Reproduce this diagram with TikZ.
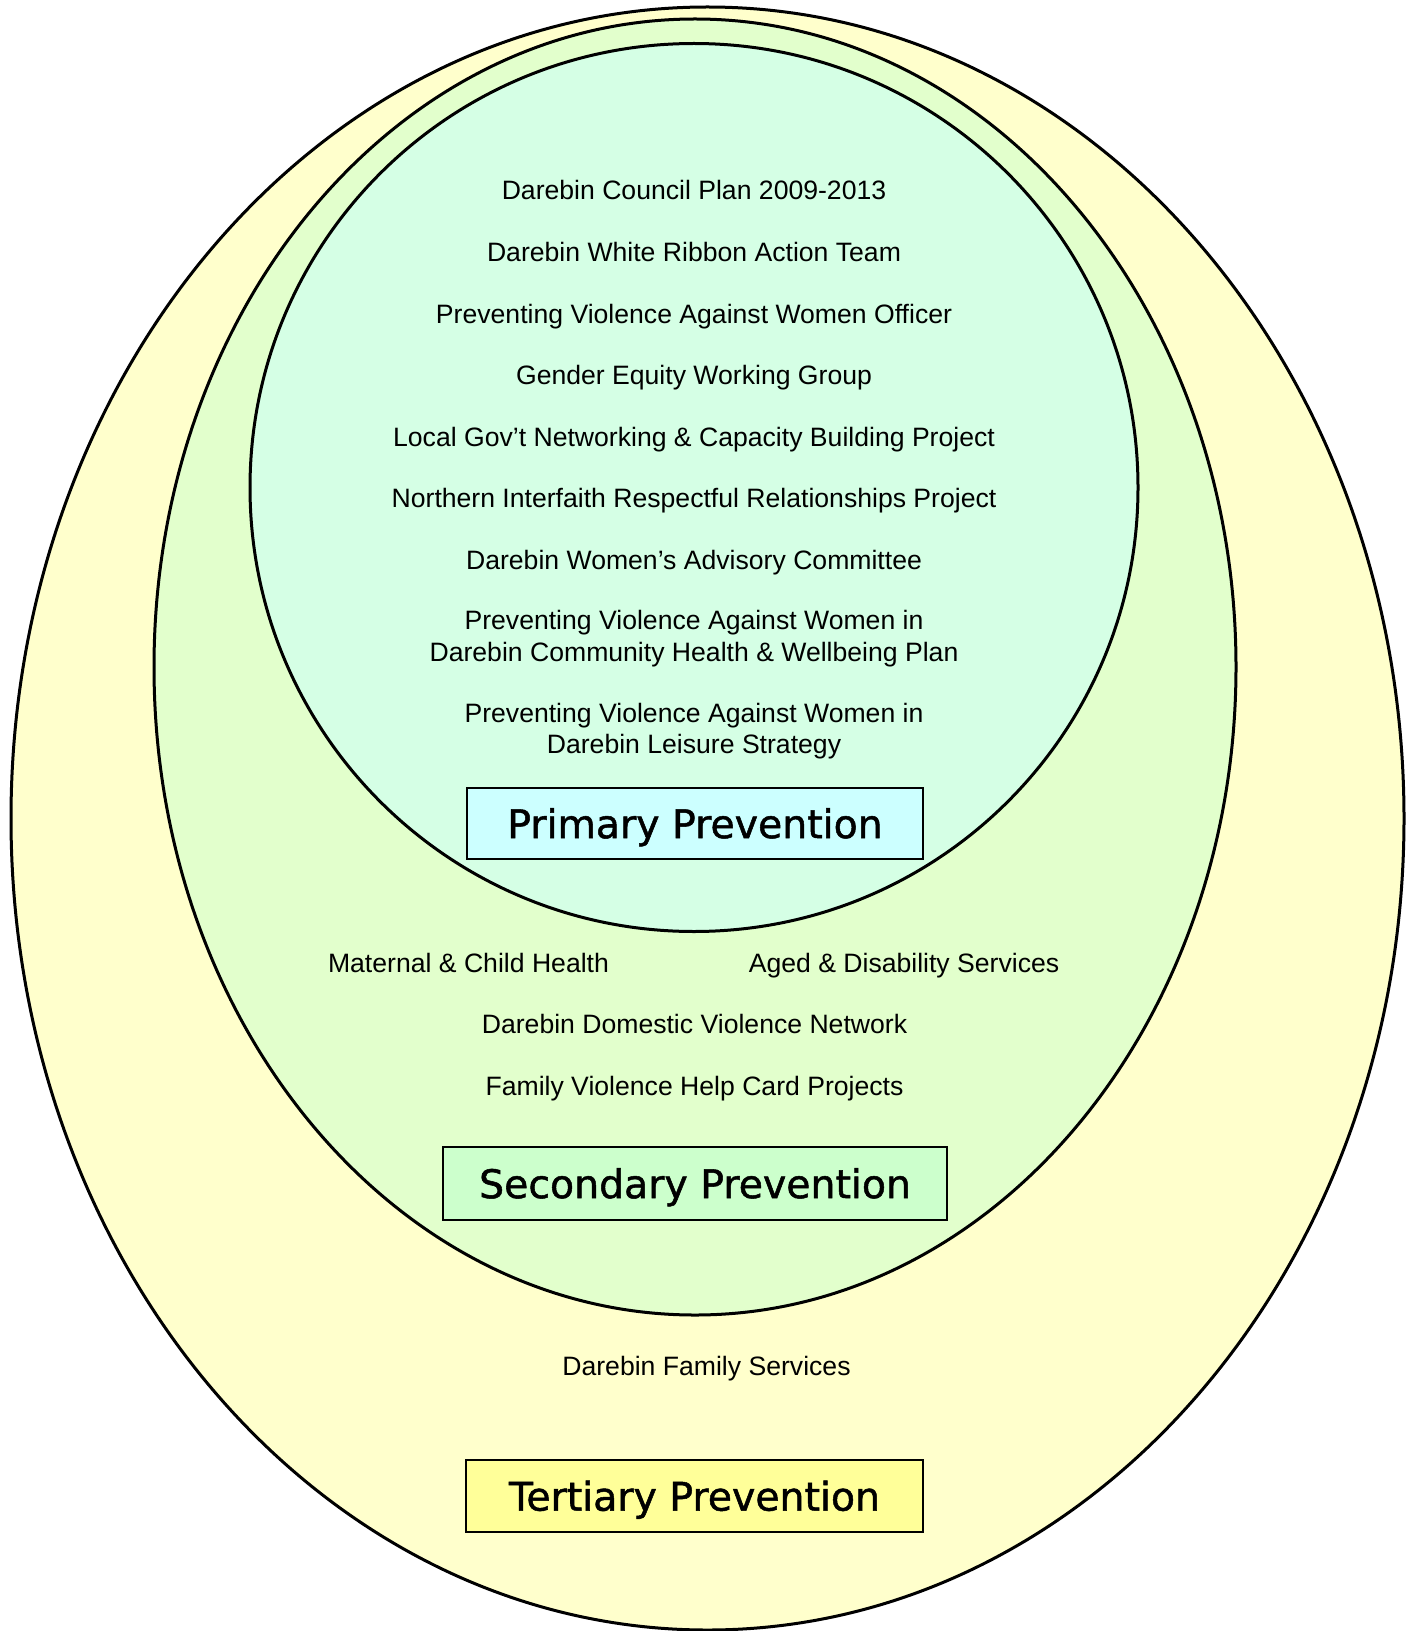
\documentclass[tikz,border=0pt]{standalone}
\usepackage{fontspec}
\setmainfont{Liberation Sans}
\newfontfamily\headfont{DejaVu Sans}[FakeBold=1.3]
\definecolor{tertiaryback}{HTML}{FFFFCC}
\definecolor{secondaryback}{HTML}{E2FFCC}
\definecolor{primaryback}{HTML}{D5FFE5}
\definecolor{primarybox}{HTML}{CCFFFF}
\definecolor{secondarybox}{HTML}{CCFFCC}
\definecolor{tertiarybox}{HTML}{FFFF99}
\begin{document}
\begin{tikzpicture}[x=0.5pt, y=-0.5pt,
        ring/.style={draw=black, line width=1.5pt},
        item/.style={anchor=base, align=center, inner sep=0pt, font=\fontsize{13.3}{15.6}\selectfont},
        level/.style={rectangle, draw=black, line width=1pt, text height=14.6pt, text depth=0pt, font=\headfont\fontsize{19.7}{24}\selectfont}
    ]
        \useasboundingbox (0,0) rectangle (1415,1631);

        % nested prevention levels
        \filldraw[ring, fill=tertiaryback] (707.5,818.5) ellipse [x radius=348.25pt, y radius=405.75pt];
        \filldraw[ring, fill=secondaryback] (695,667) ellipse [x radius=270.5pt, y radius=324pt];
        \filldraw[ring, fill=primaryback] (694,487.5) circle [radius=222pt];

        % primary prevention
        \node[item] (plan) at (694,200) {Darebin Council Plan 2009-2013};
        \node[item] (ribbon) at (694,261.5) {Darebin White Ribbon Action Team};
        \node[item] (officer) at (694,323) {Preventing Violence Against Women Officer};
        \node[item] (equity) at (694,384.5) {Gender Equity Working Group};
        \node[item] (localgov) at (694,446) {Local Gov’t Networking \& Capacity Building Project};
        \node[item] (interfaith) at (694,507.5) {Northern Interfaith Respectful Relationships Project};
        \node[item] (advisory) at (694,569) {Darebin Women’s Advisory Committee};
        \node[item] (healthplan) at (694,661) {Preventing Violence Against Women in\\Darebin Community Health \& Wellbeing Plan};
        \node[item] (leisure) at (694,753.5) {Preventing Violence Against Women in\\Darebin Leisure Strategy};
        \node[level, fill=primarybox, minimum width=228pt, minimum height=35.5pt] (primary) at (695,823.5) {Primary Prevention};

        % secondary prevention
        \node[item] (maternal) at (468.5,972) {Maternal \& Child Health};
        \node[item] (aged) at (904,972) {Aged \& Disability Services};
        \node[item] (network) at (694.5,1033) {Darebin Domestic Violence Network};
        \node[item] (helpcard) at (694.5,1095) {Family Violence Help Card Projects};
        \node[level, fill=secondarybox, minimum width=252pt, minimum height=36.5pt] (secondary) at (695,1183.5) {Secondary Prevention};

        % tertiary prevention
        \node[item] (family) at (706.5,1375) {Darebin Family Services};
        \node[level, fill=tertiarybox, minimum width=228.5pt, minimum height=36pt] (tertiary) at (694.5,1496) {Tertiary Prevention};
    \end{tikzpicture}
\end{document}
